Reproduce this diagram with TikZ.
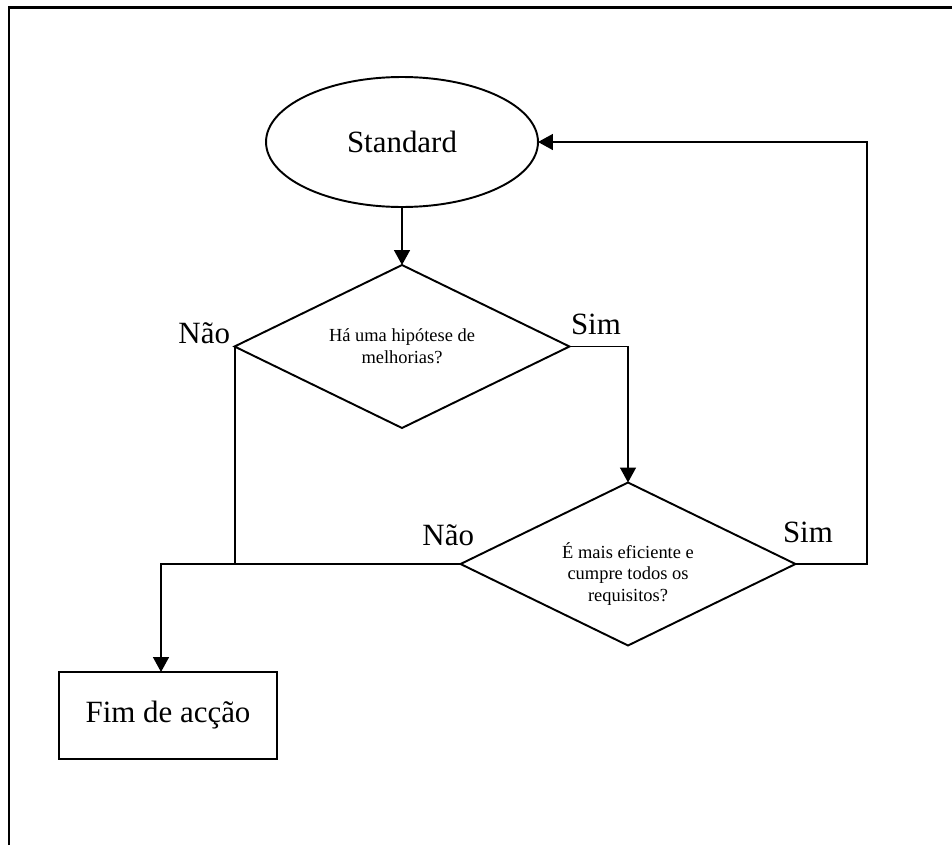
\documentclass[tikz,border=0pt]{standalone}
\usepackage{fontspec}
\setmainfont{Liberation Serif}
\usetikzlibrary{arrows.meta,positioning,shapes.geometric}

\begin{document}
\begin{tikzpicture}[x=0.02cm,y=-0.02cm,line width=1.1pt,
  every node/.style={font=\fontsize{17.6}{21}\selectfont,inner sep=0pt,outer sep=0pt},
  startnode/.style={draw,ellipse,minimum width=5.44cm,minimum height=2.6cm},
  decision/.style={draw,diamond,shape aspect=2,minimum width=6.7cm,minimum height=3.26cm},
  endbox/.style={draw,rectangle,minimum width=4.36cm,minimum height=1.74cm},
  qtext/.style={align=center,font=\fontsize{10.5}{12.5}\selectfont},
  arr/.style={-{Triangle[length=8.5pt,width=9pt]}}]
\useasboundingbox (0,0) rectangle (952,845);
\draw[line width=1.3pt] (9,845) -- (9,7.5) -- (952,7.5);
\node[startnode] (std) at (402,142) {Standard};
\node[decision] (q1) at (402,346.5) {};
\node[decision] (q2) at (628,564) {};
\node[endbox] (fim) at (168,715.5) {Fim de acção};
\node[qtext] (q1txt) at (402,346) {Há uma hipótese de\\melhorias?};
\node[qtext] (q2txt) at (628,574) {É mais eficiente e\\cumpre todos os\\requisitos?};
\coordinate (c1) at (161,564);
\coordinate (c2) at (867,564);
\draw[arr] (std.south) -- (q1.north);
\draw[arr] (q1.east) -| (q2.north);
\draw (q1.west) -- (q1.west |- q2.west);
\draw[arr] (q2.west) -- (c1) -- (c1 |- fim.north);
\draw[arr] (q2.east) -- (c2) |- (std.east);
\node[anchor=base east] (nao1) at (230,343) {Não};
\node[anchor=base west] (sim1) at (571,334) {Sim};
\node[anchor=base east] (nao2) at (474,545) {Não};
\node[anchor=base west] (sim2) at (783,542) {Sim};
\end{tikzpicture}
\end{document}
